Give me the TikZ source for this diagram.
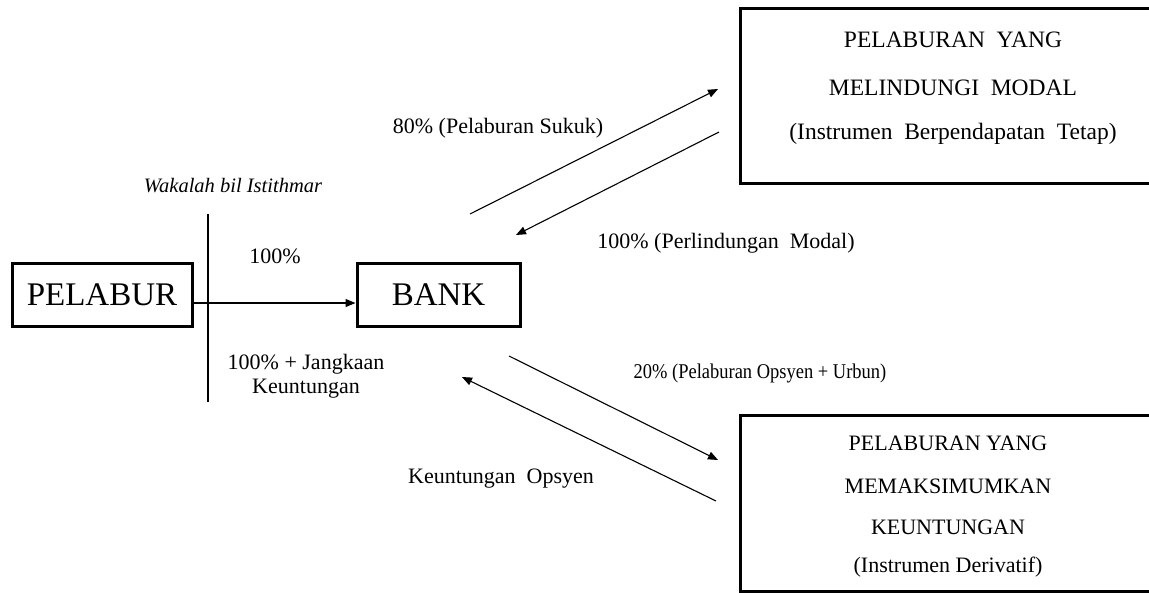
\documentclass[tikz,border=0pt]{standalone}
\usepackage{fontspec}
\usepackage{graphicx}
\setmainfont{Liberation Serif}
\usetikzlibrary{arrows.meta}
\begin{document}
\begin{tikzpicture}[x=1pt,y=-1pt,
  bigbox/.style={draw,line width=3pt,inner sep=0pt},
  conn/.style={line width=1.1pt,-{Triangle[length=10pt,width=8pt]}},
  lbl/.style={font=\fontsize{22}{25}\selectfont,inner sep=0pt}]
\useasboundingbox (0,0) rectangle (1149,592);
\node[bigbox,minimum width=180,minimum height=63,font=\fontsize{33}{36}\selectfont] (pelabur) at (102,295) {PELABUR};
\node[bigbox,minimum width=163,minimum height=63,font=\fontsize{33}{36}\selectfont] (bank) at (438.5,295) {BANK};
\node[bigbox,minimum width=425,minimum height=175] (modal) at (952.5,95.5) {};
\node[bigbox,minimum width=425,minimum height=176] (untung) at (952.5,503) {};
\node[lbl,font=\fontsize{23.5}{26}\selectfont] (m1) at (953,40) {PELABURAN\ \ YANG};
\node[lbl,font=\fontsize{23.5}{26}\selectfont] (m2) at (953,88) {MELINDUNGI\ \ MODAL};
\node[lbl,font=\fontsize{23.5}{26}\selectfont] (m3) at (953,134) {(Instrumen\ \ Berpendapatan\ \ Tetap)};
\node[lbl] (u1) at (948,443) {PELABURAN YANG};
\node[lbl] (u2) at (948,486) {MEMAKSIMUMKAN};
\node[lbl] (u3) at (948,527) {KEUNTUNGAN};
\node[lbl] (u4) at (948,567) {(Instrumen Derivatif)};
\coordinate (vt) at (208,214);
\coordinate (vb) at (208,402);
\draw[line width=1.1pt] (vt) -- (vb);
\draw[conn] ([yshift=-8pt]pelabur.east) -- ([yshift=-8pt]bank.west);
\coordinate (a1s) at (470,214); \coordinate (a1e) at (718,89);
\coordinate (a2s) at (719,132); \coordinate (a2e) at (516,235);
\coordinate (a3s) at (509,356); \coordinate (a3e) at (718,460);
\coordinate (a4s) at (716,501); \coordinate (a4e) at (462,377);
\draw[conn] (a1s) -- (a1e);
\draw[conn] (a2s) -- (a2e);
\draw[conn] (a3s) -- (a3e);
\draw[conn] (a4s) -- (a4e);
\node[lbl,font=\fontsize{20.5}{23}\itshape\selectfont] (wk) at (233,186) {Wakalah bil Istithmar};
\node[lbl] (p100) at (275,256) {100\%};
\node[lbl,align=center,font=\fontsize{22}{24}\selectfont] (pj) at (306,376) {100\% + Jangkaan\\Keuntungan};
\node[lbl] (l80) at (498,128) {80\% (Pelaburan Sukuk)};
\node[lbl] (l100) at (726,243) {100\% (Perlindungan\ \ Modal)};
\node[lbl,font=\fontsize{21}{24}\selectfont] (l20) at (760,373) {\scalebox{0.88}[1]{20\% (Pelaburan Opsyen + Urbun)}};
\node[lbl] (lko) at (501,479) {Keuntungan\ \ Opsyen};
\end{tikzpicture}
\end{document}
